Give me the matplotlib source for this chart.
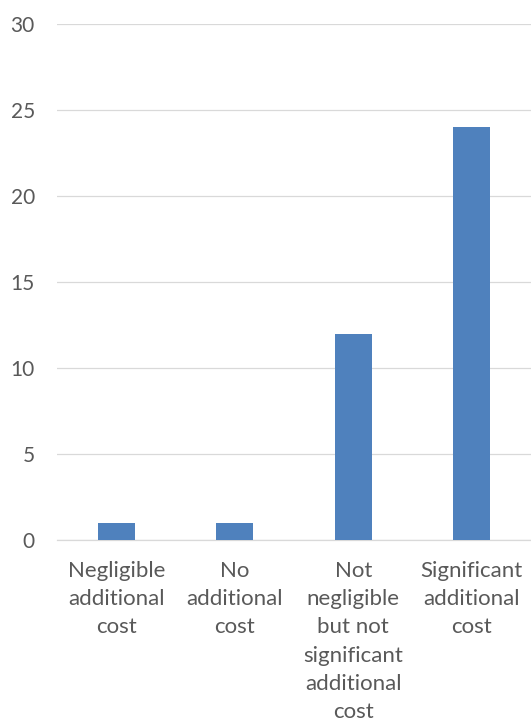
import matplotlib.pyplot as plt

# Responses per cost category
categories = [
    "Negligible\nadditional\ncost",
    "No\nadditional\ncost",
    "Not\nnegligible\nbut not\nsignificant\nadditional\ncost",
    "Significant\nadditional\ncost",
]
counts = [1, 1, 12, 24]
y_ticks = [0, 5, 10, 15, 20, 25, 30]

plt.rcParams['font.family'] = ['Lato', 'DejaVu Sans']

fig = plt.figure(figsize=(5.31, 7.27), dpi=100)
ax = fig.add_axes([57 / 531, 1 - 540 / 727, 1 - 57 / 531, (540 - 24) / 727])

x = range(len(categories))
ax.bar(x, counts, width=0.31, color='#4F81BD', zorder=3)

ax.set_xlim(-0.5, len(categories) - 0.5)
ax.set_ylim(0, 30)
ax.set_yticks(y_ticks)
ax.grid(axis='y', color='#D9D9D9', linewidth=0.9, zorder=0)

ax.set_xticks(list(x))
ax.set_xticklabels(categories, fontsize=16, color='#595959', linespacing=1.52)
ax.tick_params(axis='y', labelsize=15, labelcolor='#595959', length=0, pad=16)
ax.tick_params(axis='x', length=0, pad=15)

for side in ['top', 'right', 'left']:
    ax.spines[side].set_visible(False)
ax.spines['bottom'].set_color('#D9D9D9')
ax.spines['bottom'].set_linewidth(0.9)

fig.savefig("out.png", dpi=100)
